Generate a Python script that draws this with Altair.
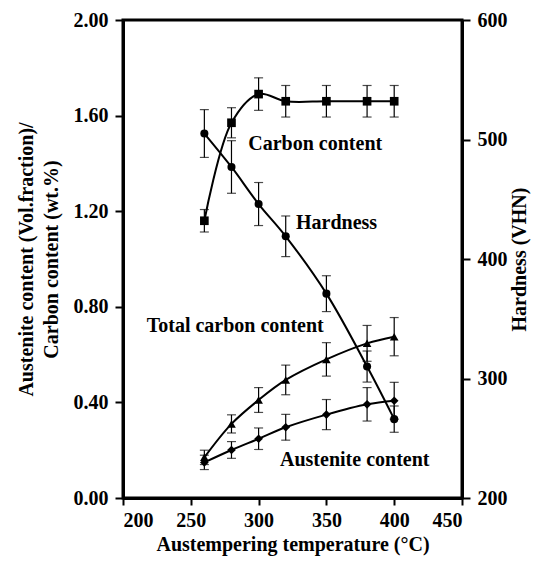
import altair as alt
import pandas as pd

temps = [260, 280, 300, 320, 350, 380, 400]

carbon = [1.16, 1.57, 1.69, 1.66, 1.66, 1.66, 1.66]
carbon_err = [0.047, 0.063, 0.068, 0.066, 0.066, 0.066, 0.066]

total_carbon = [0.17, 0.31, 0.41, 0.494, 0.58, 0.647, 0.675]
total_carbon_err = [0.03, 0.038, 0.052, 0.062, 0.07, 0.075, 0.08]

austenite = [0.149, 0.201, 0.248, 0.296, 0.349, 0.392, 0.407]
austenite_err = [0.03, 0.035, 0.045, 0.054, 0.063, 0.07, 0.077]

hardness = [505, 477, 446, 419, 371, 310, 266]
hardness_err = [20, 22, 18, 17, 15, 13, 11]

label_text = ["Carbon content", "Hardness", "Total carbon content", "Austenite content"]
label_x = [292.4, 327.6, 217.5, 315.8]
label_y = [1.48, 1.149, 0.721, 0.159]

FONT = "Liberation Serif"
FS = 20

rows = []
for name, vals, errs, shape in [
    ("Carbon content", carbon, carbon_err, "square"),
    ("Total carbon content", total_carbon, total_carbon_err, "triangle-up"),
    ("Austenite content", austenite, austenite_err, "diamond"),
]:
    for t, v, e in zip(temps, vals, errs):
        rows.append({"series": name, "temp": t, "val": v, "lo": v - e, "hi": v + e, "shape": shape})
left_df = pd.DataFrame(rows)

hard_df = pd.DataFrame({
    "temp": temps,
    "val": hardness,
    "lo": [h - e for h, e in zip(hardness, hardness_err)],
    "hi": [h + e for h, e in zip(hardness, hardness_err)],
})

lab_df = pd.DataFrame({"text": label_text, "temp": label_x, "val": label_y})

xscale = alt.Scale(domain=[200, 450], nice=False, zero=False)
xaxis = alt.Axis(values=[200, 250, 300, 350, 400, 450], title="Austempering temperature (°C)",
                 titlePadding=4, labelPadding=5, tickSize=7)
x = alt.X("temp:Q", scale=xscale, axis=xaxis)

yl_scale = alt.Scale(domain=[0, 2], nice=False, zero=False)
yl_axis = alt.Axis(values=[0, 0.4, 0.8, 1.2, 1.6, 2.0], format=".2f",
                   title=["Austenite content (Vol.fraction)/", "Carbon content (wt.%)"],
                   titlePadding=12, labelPadding=7, tickSize=8, titleLineHeight=25)

base_l = alt.Chart(left_df)
lines_l = base_l.mark_line(color="black", strokeWidth=2, interpolate="catmull-rom").encode(
    x=x, y=alt.Y("val:Q", scale=yl_scale, axis=yl_axis), detail="series:N")
rules_l = base_l.mark_rule(color="black", strokeWidth=1.2).encode(
    x="temp:Q", y=alt.Y("lo:Q", scale=yl_scale), y2="hi:Q", detail="series:N")
cap_lo_l = base_l.mark_tick(color="black", orient="horizontal", size=9, thickness=1.2).encode(
    x="temp:Q", y=alt.Y("lo:Q", scale=yl_scale))
cap_hi_l = base_l.mark_tick(color="black", orient="horizontal", size=9, thickness=1.2).encode(
    x="temp:Q", y=alt.Y("hi:Q", scale=yl_scale))
pts_l = base_l.mark_point(filled=True, color="black", opacity=1, size=75).encode(
    x="temp:Q", y=alt.Y("val:Q", scale=yl_scale),
    shape=alt.Shape("shape:N", scale=None, legend=None))
texts = alt.Chart(lab_df).mark_text(align="left", baseline="middle", font=FONT, fontWeight="bold",
                                     fontSize=FS, color="black").encode(
    x="temp:Q", y=alt.Y("val:Q", scale=yl_scale), text="text:N")

left_layer = alt.layer(lines_l, rules_l, cap_lo_l, cap_hi_l, pts_l, texts)

yr_scale = alt.Scale(domain=[200, 600], nice=False, zero=False)
yr_axis = alt.Axis(orient="right", values=[200, 300, 400, 500, 600], title="Hardness (VHN)",
                   titlePadding=2, labelPadding=7, tickSize=8,
                   titleAngle=270, titleBaseline="top")
base_r = alt.Chart(hard_df)
line_r = base_r.mark_line(color="black", strokeWidth=2, interpolate="catmull-rom").encode(
    x="temp:Q", y=alt.Y("val:Q", scale=yr_scale, axis=yr_axis))
rules_r = base_r.mark_rule(color="black", strokeWidth=1.2).encode(
    x="temp:Q", y=alt.Y("lo:Q", scale=yr_scale), y2="hi:Q")
cap_lo_r = base_r.mark_tick(color="black", orient="horizontal", size=9, thickness=1.2).encode(
    x="temp:Q", y=alt.Y("lo:Q", scale=yr_scale))
cap_hi_r = base_r.mark_tick(color="black", orient="horizontal", size=9, thickness=1.2).encode(
    x="temp:Q", y=alt.Y("hi:Q", scale=yr_scale))
pts_r = base_r.mark_point(filled=True, color="black", opacity=1, size=65, shape="circle").encode(
    x="temp:Q", y=alt.Y("val:Q", scale=yr_scale))
right_layer = alt.layer(line_r, rules_r, cap_lo_r, cap_hi_r, pts_r)

chart = alt.layer(left_layer, right_layer).resolve_scale(y="independent").properties(
    width=339, height=478,
    autosize=alt.AutoSizeParams(type="none"),
    padding={"left": 115, "top": 12, "right": 69, "bottom": 59},
).configure_view(stroke="black", strokeWidth=3).configure_axis(
    grid=False, domainColor="black", domainWidth=3, tickColor="black", tickWidth=2,
    labelFont=FONT, labelFontWeight="bold", labelFontSize=FS, labelColor="black",
    titleFont=FONT, titleFontWeight="bold", titleFontSize=FS, titleColor="black",
)

chart.save("out.html", embed_options={"renderer": "svg", "actions": False})
